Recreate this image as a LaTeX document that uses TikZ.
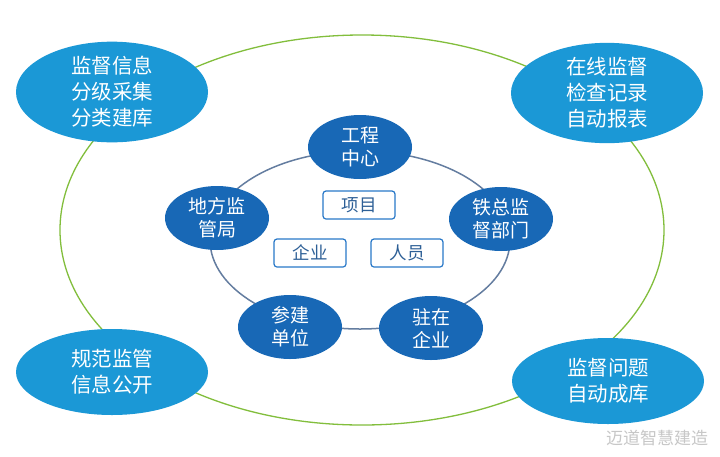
\documentclass[tikz,border=0pt]{standalone}
\usepackage{fontspec}
\usetikzlibrary{shapes.geometric}
\setmainfont{Noto Sans CJK SC}
\newfontfamily\cjk{Noto Sans CJK SC}
\definecolor{outerblue}{RGB}{27,152,214}
\definecolor{innerblue}{RGB}{24,104,182}
\definecolor{ringcol}{RGB}{100,125,160}
\definecolor{greenring}{RGB}{130,190,60}
\definecolor{boxblue}{RGB}{40,120,200}
\definecolor{boxtext}{RGB}{45,95,150}
\begin{document}
\begin{tikzpicture}[x=1pt,y=-1pt,
  outerell/.style={ellipse, fill=outerblue, draw=none, text=white, minimum width=192pt, minimum height=86pt, inner sep=0pt, align=center, font=\cjk\fontsize{20.5}{26}\selectfont},
  innerell/.style={ellipse, fill=innerblue, draw=none, text=white, minimum width=104pt, minimum height=64pt, inner sep=0pt, align=center, font=\cjk\fontsize{19}{23}\selectfont},
  tagbox/.style={draw=boxblue, line width=1.2pt, fill=white, rounded corners=3pt, minimum width=72pt, minimum height=28pt, inner sep=0pt, text=boxtext, font=\cjk\fontsize{17.5}{20}\selectfont}
]
\useasboundingbox (0,0) rectangle (720,456);
\fill[white] (0,0) rectangle (720,456);
% big green ellipse
\draw[greenring, line width=1.3pt] (362,230) ellipse [x radius=302, y radius=195];
% inner ring
\draw[ringcol, line width=1.5pt] (360,240) ellipse [x radius=150, y radius=89];
% outer ellipses
\node[outerell] (tl) at (112,92) {监督信息\\分级采集\\分类建库};
\node[outerell] (tr) at (607,93) {在线监督\\检查记录\\自动报表};
\node[outerell] (bl) at (112,372) {规范监管\\信息公开};
\node[outerell] (br) at (608,381) {监督问题\\自动成库};
% inner ellipses
\node[innerell] (gc) at (360,147) {工程\\中心};
\node[innerell] (df) at (217,218) {地方监\\管局};
\node[innerell] (tz) at (501,219) {铁总监\\督部门};
\node[innerell] (cj) at (290,327) {参建\\单位};
\node[innerell] (zz) at (431,328) {驻在\\企业};
% boxes
\node[tagbox] (xm) at (359,205) {项目};
\node[tagbox] (qy) at (310,253) {企业};
\node[tagbox] (ry) at (407,253) {人员};
% watermark
\node[text=black!22, font=\cjk\fontsize{17}{20}\selectfont, inner sep=0pt] (wm) at (657,438) {迈道智慧建造};
\end{tikzpicture}
\end{document}
